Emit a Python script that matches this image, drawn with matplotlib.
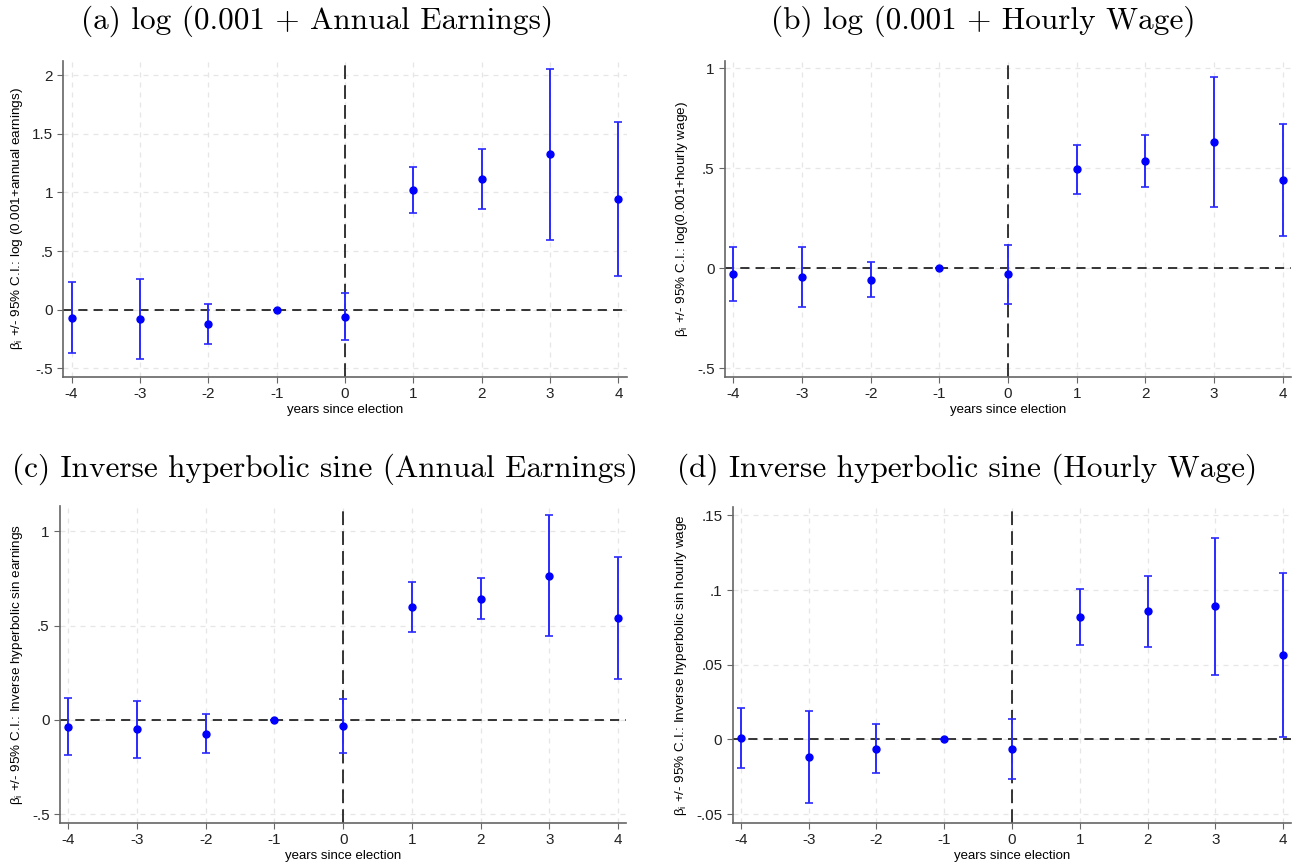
import numpy as np
import matplotlib.pyplot as plt

plt.rcParams['font.family'] = ['Liberation Sans', 'DejaVu Sans']
plt.rcParams['mathtext.fontset'] = 'custom'
plt.rcParams['mathtext.rm'] = 'Liberation Sans'
plt.rcParams['mathtext.it'] = 'Liberation Sans'

years = [-4, -3, -2, -1, 0, 1, 2, 3, 4]

# (a) log(0.001 + annual earnings)
coef_a = [-0.068, -0.082, -0.122, 0.0, -0.060, 1.020, 1.112, 1.325, 0.944]
lo_a = [-0.372, -0.420, -0.290, 0.0, -0.261, 0.827, 0.856, 0.594, 0.287]
hi_a = [0.236, 0.259, 0.046, 0.0, 0.142, 1.219, 1.367, 2.055, 1.597]

# (b) log(0.001 + hourly wage)
coef_b = [-0.030, -0.043, -0.057, 0.0, -0.030, 0.495, 0.538, 0.632, 0.443]
lo_b = [-0.163, -0.192, -0.143, 0.0, -0.180, 0.373, 0.408, 0.308, 0.163]
hi_b = [0.107, 0.107, 0.033, 0.0, 0.118, 0.618, 0.668, 0.955, 0.723]

# (c) inverse hyperbolic sine, annual earnings
coef_c = [-0.037, -0.051, -0.073, 0.0, -0.035, 0.597, 0.643, 0.763, 0.541]
lo_c = [-0.189, -0.201, -0.177, 0.0, -0.178, 0.465, 0.535, 0.442, 0.219]
hi_c = [0.115, 0.099, 0.032, 0.0, 0.108, 0.730, 0.754, 1.086, 0.866]

# (d) inverse hyperbolic sine, hourly wage
coef_d = [0.0010, -0.0119, -0.0063, 0.0, -0.0067, 0.0821, 0.0857, 0.0891, 0.0565]
lo_d = [-0.0190, -0.0427, -0.0228, 0.0, -0.0268, 0.0630, 0.0616, 0.0431, 0.0017]
hi_d = [0.0208, 0.0190, 0.0103, 0.0, 0.0136, 0.1009, 0.1094, 0.1346, 0.1112]

yticks_a = [-0.5, 0, 0.5, 1, 1.5, 2]
yticklabels_a = ['-.5', '0', '.5', '1', '1.5', '2']
yticks_b = [-0.5, 0, 0.5, 1]
yticklabels_b = ['-.5', '0', '.5', '1']
yticks_c = [-0.5, 0, 0.5, 1]
yticklabels_c = ['-.5', '0', '.5', '1']
yticks_d = [-0.05, 0, 0.05, 0.1, 0.15]
yticklabels_d = ['-.05', '0', '.05', '.1', '.15']

titles = ['(a) log (0.001 + Annual Earnings)',
          '(b) log (0.001 + Hourly Wage)',
          '(c) Inverse hyperbolic sine (Annual Earnings)',
          '(d) Inverse hyperbolic sine (Hourly Wage)']
ylabels = [r'$\mathrm{\beta_i}$ +/- 95% C.I.: log (0.001+annual earnings)',
           r'$\mathrm{\beta_i}$ +/- 95% C.I.: log(0.001+hourly wage)',
           r'$\mathrm{\beta_i}$ +/- 95% C.I.: Inverse hyperbolic sin earnings',
           r'$\mathrm{\beta_i}$ +/- 95% C.I.: Inverse hyperbolic sin hourly wage']

fig = plt.figure(figsize=(12.98, 8.65), dpi=100)

panels = [
    ([0.0488, 0.5645, 0.434, 0.3653], coef_a, lo_a, hi_a, (-0.571, 2.123), yticks_a, yticklabels_a),
    ([0.5586, 0.5645, 0.436, 0.3653], coef_b, lo_b, hi_b, (-0.542, 1.038), yticks_b, yticklabels_b),
    ([0.0462, 0.0489, 0.4363, 0.3661], coef_c, lo_c, hi_c, (-0.546, 1.134), yticks_c, yticklabels_c),
    ([0.5645, 0.0489, 0.4304, 0.3653], coef_d, lo_d, hi_d, (-0.0558, 0.1558), yticks_d, yticklabels_d),
]
title_pos = [(0.2446, 0.976), (0.7577, 0.976), (0.25, 0.458), (0.7454, 0.458)]

for i, (rect, coef, lo, hi, ylim, yt, ytl) in enumerate(panels):
    ax = fig.add_axes(rect)
    coef = np.array(coef)
    err = np.vstack([coef - np.array(lo), np.array(hi) - coef])

    ax.grid(True, color='#e6e6e6', linestyle=(0, (4, 4)), linewidth=0.9)
    ax.set_axisbelow(True)
    ax.axhline(0, color='black', linestyle=(0, (6, 4)), linewidth=1.1, zorder=1)
    ax.axvline(0, color='black', linestyle=(0, (9, 4)), linewidth=1.1, zorder=1)

    ax.errorbar(years, coef, yerr=err, fmt='none', ecolor='#2a2aff',
                elinewidth=1.4, capsize=3, capthick=1.2, zorder=3)
    ax.plot(years, coef, 'o', color='blue', markersize=5, zorder=4)

    ax.set_xlim(-4.12, 4.12)
    ax.set_ylim(*ylim)
    ax.set_xticks(years)
    ax.set_xticklabels([str(y) for y in years])
    ax.set_yticks(yt)
    ax.set_yticklabels(ytl)
    ax.tick_params(colors='#222222', labelsize=11, length=4, width=0.8,
                   direction='out')
    ax.tick_params(axis='both', color='#666666')
    for s in ['top', 'right']:
        ax.spines[s].set_visible(False)
    for s in ['left', 'bottom']:
        ax.spines[s].set_color('#666666')
        ax.spines[s].set_linewidth(1.2)

    ax.set_xlabel('years since election', fontsize=9.5, labelpad=2)
    ax.set_ylabel(ylabels[i], fontsize=9.7, labelpad=5)

    fig.text(title_pos[i][0], title_pos[i][1], titles[i], fontsize=22.5,
             family='cmr10', ha='center', va='center')

fig.savefig('out.png', dpi=100)
